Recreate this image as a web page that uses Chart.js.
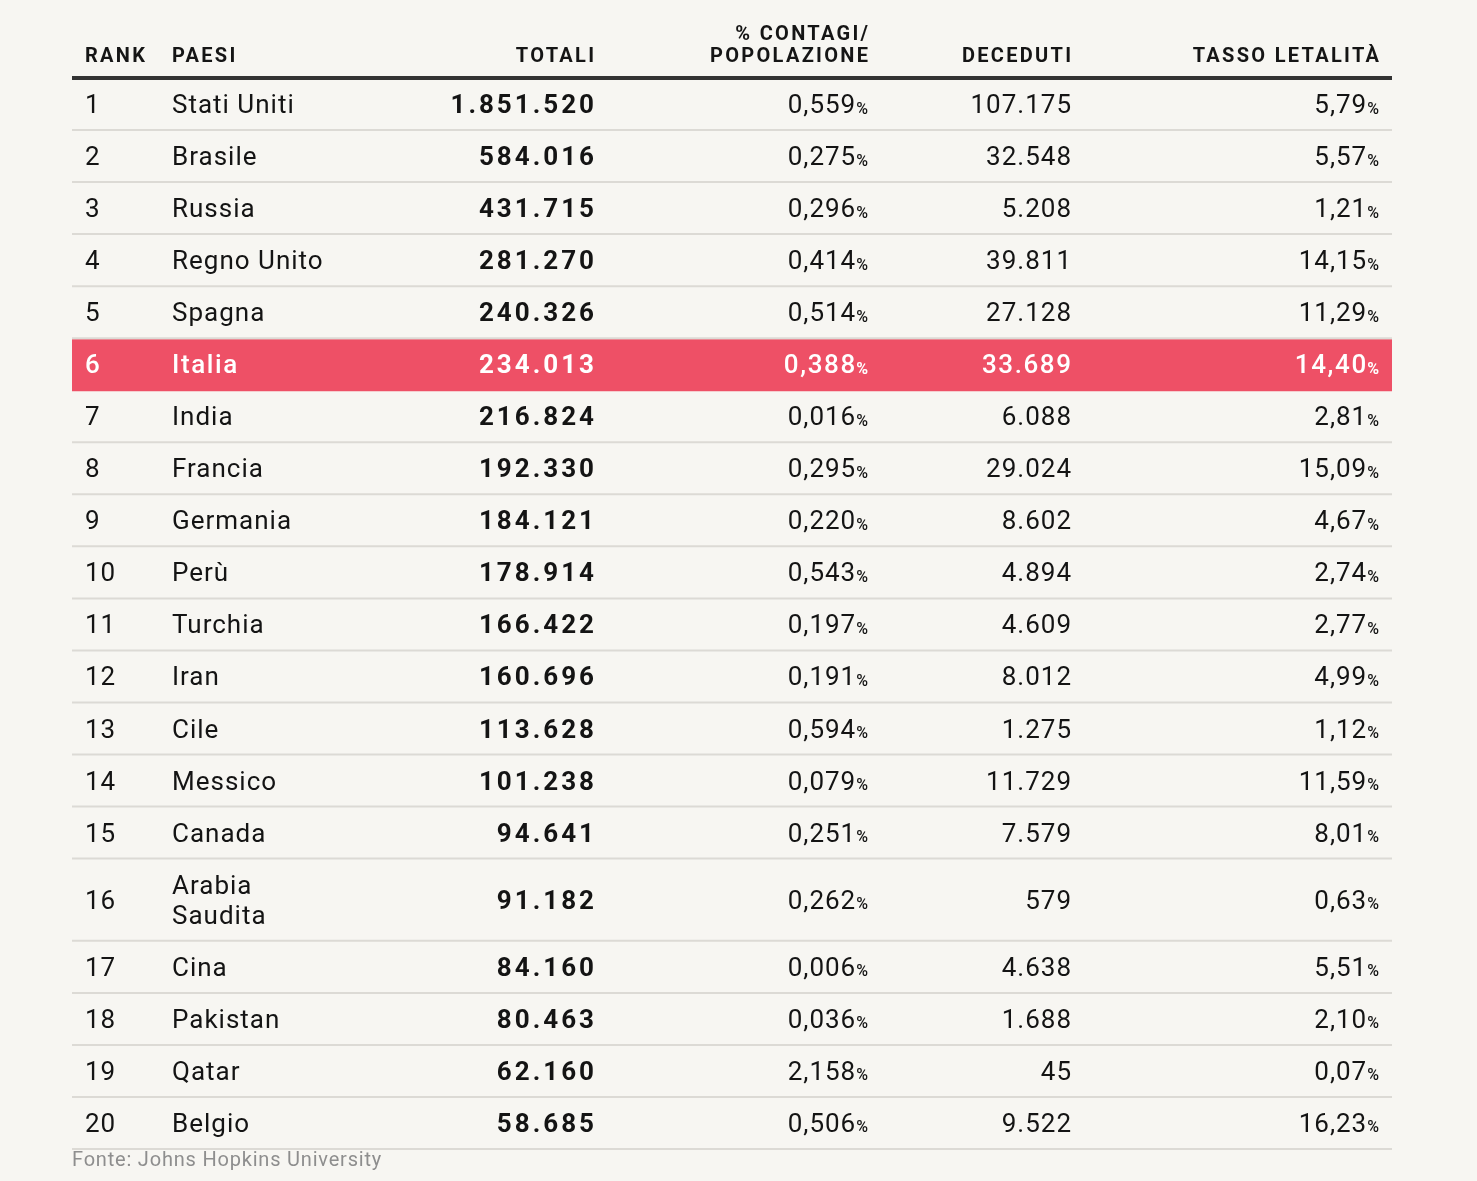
<!DOCTYPE html>
<html><head><meta charset="utf-8">
<script src="https://cdn.jsdelivr.net/npm/chart.js@4"></script>
<style>html,body{margin:0;background:#f7f6f2;}#wrap{position:relative;width:1477px;height:1181px;}</style>
</head><body><div id="wrap"><canvas id="c"></canvas></div>
<script>
const headers = ["RANK","PAESI","TOTALI","% CONTAGI/\nPOPOLAZIONE","DECEDUTI","TASSO LETALITÀ"];
const ranks = [1,2,3,4,5,6,7,8,9,10,11,12,13,14,15,16,17,18,19,20];
const countries = ["Stati Uniti","Brasile","Russia","Regno Unito","Spagna","Italia","India","Francia","Germania","Perù","Turchia","Iran","Cile","Messico","Canada","Arabia\nSaudita","Cina","Pakistan","Qatar","Belgio"];
const totals = [1851520,584016,431715,281270,240326,234013,216824,192330,184121,178914,166422,160696,113628,101238,94641,91182,84160,80463,62160,58685];
const pctPop = [0.559,0.275,0.296,0.414,0.514,0.388,0.016,0.295,0.220,0.543,0.197,0.191,0.594,0.079,0.251,0.262,0.006,0.036,2.158,0.506];
const deaths = [107175,32548,5208,39811,27128,33689,6088,29024,8602,4894,4609,8012,1275,11729,7579,579,4638,1688,45,9522];
const lethality = [5.79,5.57,1.21,14.15,11.29,14.40,2.81,15.09,4.67,2.74,2.77,4.99,1.12,11.59,8.01,0.63,5.51,2.10,0.07,16.23];
const highlight = "Italia";
const source = "Fonte: Johns Hopkins University";

const FONT = "Roboto, 'Noto Sans', sans-serif";
function fmtInt(n){ return String(n).replace(/\B(?=(\d{3})+(?!\d))/g, "."); }
function fmtDec(v,d){ return v.toFixed(d).replace(".", ","); }

// row heights in row units (two-line names are taller)
const rowUnits = countries.map(c => c.includes("\n") ? 1.58 : 1);
const rowStart = [];
rowUnits.reduce((acc,u,i)=>{ rowStart[i]=acc; return acc+u; }, 0);
const totalUnits = rowUnits.reduce((a,b)=>a+b,0);

// column anchors in table units (0..1320)
const cols = {rank:13, country:100, totals:522, pct:796, deaths:999, rate:1307};

const tablePlugin = {
  id:'tablePlugin',
  beforeDatasetsDraw(chart){
    const {ctx, scales:{x,y}, chartArea:a} = chart;
    ctx.save();
    const px = v => x.getPixelForValue(v);
    const py = v => y.getPixelForValue(v);
    // highlighted row
    countries.forEach((c,i)=>{
      if (c===highlight){
        ctx.fillStyle="#ee5066";
        const y0=py(rowStart[i]), y1=py(rowStart[i]+rowUnits[i]);
        ctx.fillRect(px(0), y0+1, px(1320)-px(0), y1-y0);
      }
    });
    // separators
    ctx.strokeStyle="#dcdad5"; ctx.lineWidth=2;
    countries.forEach((c,i)=>{
      if (c===highlight) return;
      const yy=py(rowStart[i]+rowUnits[i]);
      ctx.beginPath(); ctx.moveTo(px(0),yy); ctx.lineTo(px(1320),yy); ctx.stroke();
    });
    // header rule
    ctx.strokeStyle="#333"; ctx.lineWidth=4;
    ctx.beginPath(); ctx.moveTo(px(0),a.top); ctx.lineTo(px(1320),a.top); ctx.stroke();

    // headers
    const hs=2.3;
    ctx.fillStyle="#151515"; ctx.font="bold 20px "+FONT; ctx.letterSpacing=hs+"px"; ctx.textBaseline="alphabetic";
    const hx=[cols.rank,cols.country,cols.totals,cols.pct,cols.deaths,cols.rate];
    const halign=["left","left","right","right","right","right"];
    headers.forEach((h,j)=>{
      const lines=h.split("\n");
      ctx.textAlign=halign[j];
      const off = halign[j]==="right" ? hs : 0;
      lines.forEach((ln,k)=>{
        ctx.fillText(ln, px(hx[j])+off, a.top-16-(lines.length-1-k)*22);
      });
    });

    // body
    ctx.textBaseline="middle";
    countries.forEach((c,i)=>{
      const hl = c===highlight;
      const cy = py(rowStart[i]+rowUnits[i]/2)+2.5;
      ctx.fillStyle = hl ? "#ffffff" : "#141414";
      const reg = (hl ? "500 " : "400 ")+"26px "+FONT;
      const bold = "bold 26px "+FONT;
      const sp = hl ? 1.6 : 1;
      ctx.font=reg; ctx.letterSpacing= sp+"px"; ctx.textAlign="left";
      ctx.fillText(String(ranks[i]), px(cols.rank), cy);
      const lines=c.split("\n");
      lines.forEach((ln,k)=>{ ctx.fillText(ln, px(cols.country), cy+(k-(lines.length-1)/2)*30); });
      ctx.textAlign="right";
      ctx.font=bold; ctx.letterSpacing="3px";
      ctx.fillText(fmtInt(totals[i]), px(cols.totals)+3, cy);
      ctx.font=reg; ctx.letterSpacing=sp+"px";
      ctx.fillText(fmtInt(deaths[i]), px(cols.deaths)+sp, cy);
      // percentage cells with small % sign
      [[cols.pct, fmtDec(pctPop[i],3)],[cols.rate, fmtDec(lethality[i],2)]].forEach(([cx,txt])=>{
        ctx.font=(hl?"bold ":"500 ")+"16px "+FONT; ctx.letterSpacing="0px";
        const w=ctx.measureText("%").width;
        ctx.fillText("%", px(cx), cy+3);
        ctx.font=reg; ctx.letterSpacing=sp+"px";
        ctx.fillText(txt, px(cx)-w+sp-1, cy);
      });
    });

    // footer
    ctx.letterSpacing="0.8px"; ctx.textAlign="left"; ctx.textBaseline="middle";
    ctx.fillStyle="#8e8e8e"; ctx.font="400 20px "+FONT;
    ctx.fillText(source, px(0), a.bottom+12);
    ctx.restore();
  }
};

new Chart(document.getElementById('c'), {
  type:'scatter',
  data:{datasets:[{data: countries.map((c,i)=>({x:cols.rank, y:rowStart[i]+rowUnits[i]/2})), pointRadius:0}]},
  options:{
    responsive:true, maintainAspectRatio:false, animation:false,
    layout:{padding:{left:72,right:85,top:78,bottom:32}},
    plugins:{legend:{display:false},tooltip:{enabled:false}},
    scales:{
      x:{type:'linear',min:0,max:1320,display:false},
      y:{type:'linear',min:0,max:totalUnits,reverse:true,display:false}
    }
  },
  plugins:[tablePlugin]
});
</script></body></html>
